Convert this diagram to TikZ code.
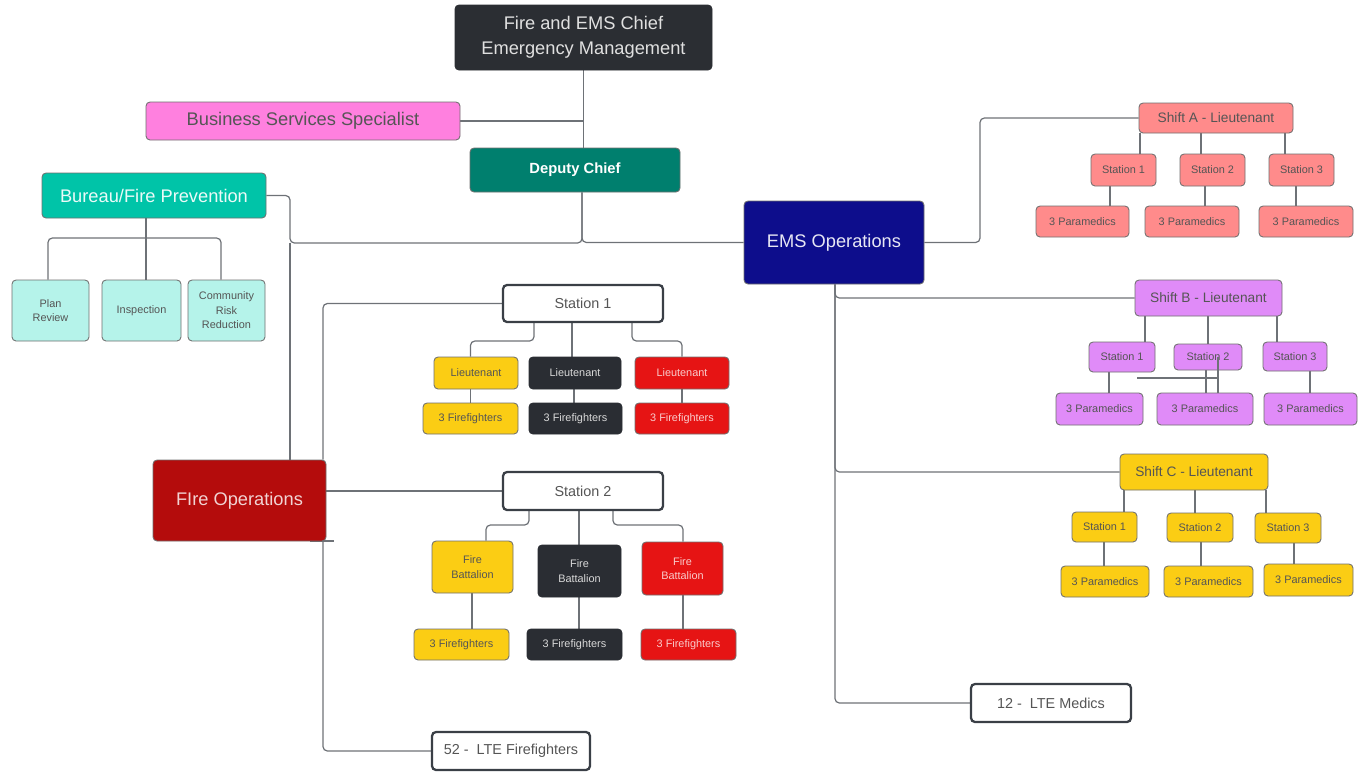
\documentclass[tikz,border=0pt]{standalone}
\usepackage{fontspec}
\setmainfont{Liberation Sans}
\usetikzlibrary{backgrounds}
\definecolor{chiefc}{HTML}{2B2E33}
\definecolor{pinkc}{HTML}{FF80DF}
\definecolor{depc}{HTML}{007F6E}
\definecolor{burc}{HTML}{00C4A8}
\definecolor{lightc}{HTML}{B5F3EA}
\definecolor{emsc}{HTML}{0D0D8C}
\definecolor{fopc}{HTML}{B40C0C}
\definecolor{yelc}{HTML}{FBCD14}
\definecolor{drkc}{HTML}{2A2D33}
\definecolor{redc}{HTML}{E61414}
\definecolor{salmc}{HTML}{FF8B8B}
\definecolor{purpc}{HTML}{E08BF8}
\definecolor{linec}{HTML}{6E7277}
\definecolor{bordc}{HTML}{6F6F6F}
\definecolor{txtg}{HTML}{555555}
\definecolor{stbord}{HTML}{3A3F46}
\newcommand\mkbox[7]{\node[#6, minimum width={(#4-#2)*0.02cm}, minimum height={(#5-#3)*0.02cm}] (#1) at ({(#2+#4)/2},{(#3+#5)/2}) {#7};}
\tikzset{
  box/.style={rounded corners=2.3pt, draw=bordc, line width=0.5pt, inner sep=0pt, align=center},
  big/.style={font=\fontsize{10.4}{14.5}\selectfont},
  mid/.style={font=\fontsize{8.2}{10}\selectfont},
  shf/.style={font=\fontsize{7.8}{9.5}\selectfont},
  sml/.style={font=\fontsize{6.2}{8.3}\selectfont},
  chiefbox/.style={box, big, fill=chiefc, draw=chiefc, text=white!88!black},
  pinkbox/.style={box, big, fill=pinkc, text=txtg},
  depbox/.style={box, fill=depc, text=white, font=\fontsize{8.4}{10}\selectfont\bfseries},
  burbox/.style={box, big, fill=burc, text=white!92!burc},
  litebox/.style={box, sml, fill=lightc, text=txtg},
  emsbox/.style={box, big, fill=emsc, text=white!90!emsc},
  fopbox/.style={box, big, fill=fopc, text=white!82!fopc},
  stbox/.style={box, mid, fill=white, draw=stbord, line width=1.3pt, text=txtg},
  yelbox/.style={box, sml, fill=yelc, text=txtg},
  drkbox/.style={box, sml, fill=drkc, draw=drkc, text=white!85!black},
  redbox/.style={box, sml, fill=redc, text=white!78!redc},
  salmbox/.style={box, sml, fill=salmc, text=txtg},
  purpbox/.style={box, sml, fill=purpc, text=txtg},
  conn/.style={draw=linec, line width=0.7pt, rounded corners=2.5pt},
}
\begin{document}
\begin{tikzpicture}[x=0.02cm, y=-0.02cm]
\useasboundingbox (0,0) rectangle (1367,772);
% top level
\mkbox{chief}{455}{5}{712}{70}{chiefbox}{Fire and EMS Chief\\Emergency Management}
\mkbox{biz}{146}{102}{460}{140}{pinkbox}{Business Services Specialist}
\mkbox{dep}{470}{148}{680}{192}{depbox}{Deputy Chief}
\mkbox{bur}{42}{173}{266}{218}{burbox}{Bureau/Fire Prevention}
\mkbox{pr}{12}{280}{89}{341}{litebox}{Plan\\Review}
\mkbox{insp}{102}{280}{181}{341}{litebox}{Inspection}
\mkbox{crr}{188}{280}{265}{341}{litebox}{Community\\Risk\\Reduction}
\mkbox{ems}{744}{201}{924}{284}{emsbox}{EMS Operations}
\mkbox{fops}{153}{460}{326}{541}{fopbox}{FIre Operations}
% fire stations
\mkbox{st1}{503}{285}{663}{322}{stbox}{Station 1}
\mkbox{st2}{503}{472}{663}{510}{stbox}{Station 2}
\mkbox{lt1}{434}{357}{518}{389}{yelbox}{Lieutenant}
\mkbox{lt2}{529}{357}{621}{389}{drkbox}{Lieutenant}
\mkbox{lt3}{635}{357}{729}{389}{redbox}{Lieutenant}
\mkbox{ff1}{423}{403}{518}{434}{yelbox}{3 Firefighters}
\mkbox{ff2}{529}{403}{622}{434}{drkbox}{3 Firefighters}
\mkbox{ff3}{635}{403}{729}{434}{redbox}{3 Firefighters}
\mkbox{fb1}{432}{541}{513}{593}{yelbox}{Fire\\Battalion}
\mkbox{fb2}{538}{545}{621}{597}{drkbox}{Fire\\Battalion}
\mkbox{fb3}{642}{542}{723}{595}{redbox}{Fire\\Battalion}
\mkbox{ff4}{414}{629}{509}{660}{yelbox}{3 Firefighters}
\mkbox{ff5}{527}{629}{622}{660}{drkbox}{3 Firefighters}
\mkbox{ff6}{641}{629}{736}{660}{redbox}{3 Firefighters}
\mkbox{lteff}{432}{732}{590}{770}{stbox}{52 - \ LTE Firefighters}
\mkbox{ltem}{971}{684}{1131}{722}{stbox}{12 - \ LTE Medics}
% shift A
\mkbox{shA}{1139}{103}{1293}{133}{salmbox, shf}{Shift A - Lieutenant}
\mkbox{sa1}{1091}{154}{1156}{186}{salmbox}{Station 1}
\mkbox{sa2}{1180}{154}{1245}{186}{salmbox}{Station 2}
\mkbox{sa3}{1269}{154}{1334}{186}{salmbox}{Station 3}
\mkbox{pa1}{1036}{206}{1129}{237}{salmbox}{3 Paramedics}
\mkbox{pa2}{1145}{206}{1239}{237}{salmbox}{3 Paramedics}
\mkbox{pa3}{1259}{206}{1353}{237}{salmbox}{3 Paramedics}
% shift B
\mkbox{shB}{1135}{280}{1282}{316}{purpbox, shf}{Shift B - Lieutenant}
\mkbox{sb1}{1089}{342}{1155}{372}{purpbox}{Station 1}
\mkbox{sb2}{1174}{344}{1242}{370}{purpbox}{Station 2}
\mkbox{sb3}{1263}{342}{1327}{371}{purpbox}{Station 3}
\mkbox{pb1}{1056}{393}{1143}{425}{purpbox}{3 Paramedics}
\mkbox{pb2}{1157}{393}{1253}{425}{purpbox}{3 Paramedics}
\mkbox{pb3}{1264}{393}{1357}{425}{purpbox}{3 Paramedics}
% shift C
\mkbox{shC}{1120}{454}{1268}{490}{yelbox, shf}{Shift C - Lieutenant}
\mkbox{sc1}{1072}{512}{1137}{542}{yelbox}{Station 1}
\mkbox{sc2}{1167}{513}{1233}{542}{yelbox}{Station 2}
\mkbox{sc3}{1255}{513}{1321}{543}{yelbox}{Station 3}
\mkbox{pc1}{1061}{566}{1149}{597}{yelbox}{3 Paramedics}
\mkbox{pc2}{1164}{566}{1253}{597}{yelbox}{3 Paramedics}
\mkbox{pc3}{1264}{564}{1353}{596}{yelbox}{3 Paramedics}
\coordinate (j1) at (290,243);
\coordinate (bj) at (146,238);
\coordinate (stubL) at (310,541);
\coordinate (stubR) at (334,541);
\coordinate (sbx) at (1137,378);
\coordinate (sby) at (1218,357);
\begin{scope}[on background layer]
\draw[conn] (chief.south) -- (chief.south |- dep.north);
\draw[conn] (biz.east) -- (biz.east -| chief.south);
\draw[conn] (bur.east) -| (j1) -| (dep.south -| 582,0);
\draw[conn] (ems.west) -| (dep.south -| 582,0);
\draw[conn] (fops.north -| j1) -- (j1);
\draw[conn] (bur.south -| bj) -- (bj);
\draw[conn] (pr.north -| 48,0) |- (bj) -| (crr.north -| 221,0);
\draw[conn] (bj) -- (insp.north -| bj);
\draw[conn] (fops.north -| 323,0) |- (st1.west);
\draw[conn] (fops.east |- st2.west) -- (st2.west);
\draw[conn] (fops.south -| 323,0) |- (lteff.west);
\draw[conn] (stubL) -- (stubR);
% station 1
\draw[conn] (st1.south -| 534,0) -- (534,341) -| (ff1.north |- lt1.north);
\draw[conn] (st1.south -| 572,0) -- (lt2.north -| 572,0);
\draw[conn] (st1.south -| 632,0) -- (632,341) -| (ff3.north |- lt3.north);
\draw[conn] (ff1.north |- lt1.south) -- (ff1.north);
\draw[conn] (lt2.south -| 574,0) -- (ff2.north -| 574,0);
\draw[conn] (ff3.north |- lt3.south) -- (ff3.north);
% station 2
\draw[conn] (st2.south -| 529,0) -- (529,525) -| (fb1.north -| 486,0);
\draw[conn] (st2.south -| 579,0) -- (fb2.north -| 579,0);
\draw[conn] (st2.south -| 613,0) -- (613,525) -| (fb3.north -| 683,0);
\draw[conn] (fb1.south -| 472,0) -- (ff4.north -| 472,0);
\draw[conn] (fb2.south -| 579,0) -- (ff5.north -| 579,0);
\draw[conn] (fb3.south -| 683,0) -- (ff6.north -| 683,0);
% EMS
\draw[conn] (ems.east) -- (980,242.5) |- (shA.west);
\draw[conn] (ems.south -| 835,0) |- (shB.west);
\draw[conn] (ems.south -| 835,0) |- (shC.west);
\draw[conn] (ems.south -| 835,0) |- (ltem.west);
% shift A
\draw[conn] (shA.south -| 1140,0) -- (sa1.north -| 1140,0);
\draw[conn] (shA.south -| 1201,0) -- (sa2.north -| 1201,0);
\draw[conn] (shA.south -| 1285,0) -- (sa3.north -| 1285,0);
\draw[conn] (sa1.south -| 1110,0) -- (pa1.north -| 1110,0);
\draw[conn] (sa2.south -| 1205,0) -- (pa2.north -| 1205,0);
\draw[conn] (sa3.south -| 1296,0) -- (pa3.north -| 1296,0);
% shift B
\draw[conn] (shB.south -| 1145,0) -- (sb1.north -| 1145,0);
\draw[conn] (shB.south -| 1208,0) -- (sb2.north -| 1208,0);
\draw[conn] (shB.south -| 1277,0) -- (sb3.north -| 1277,0);
\draw[conn] (sb1.south -| 1109,0) -- (pb1.north -| 1109,0);
\draw[conn] (sb2.south -| 1206,0) -- (pb2.north -| 1206,0);
\draw[conn] (sb3.south -| 1310,0) -- (pb3.north -| 1310,0);
\draw[conn] (sbx) -- (sbx -| sby);
% shift C
\draw[conn] (shC.south -| 1124,0) -- (sc1.north -| 1124,0);
\draw[conn] (shC.south -| 1195,0) -- (sc2.north -| 1195,0);
\draw[conn] (shC.south -| 1266,0) -- (sc3.north -| 1266,0);
\draw[conn] (sc1.south -| 1104,0) -- (pc1.north -| 1104,0);
\draw[conn] (sc2.south -| 1201,0) -- (pc2.north -| 1201,0);
\draw[conn] (sc3.south -| 1294,0) -- (pc3.north -| 1294,0);
\end{scope}
\draw[conn] (sby) -- (pb2.north -| sby);
\end{tikzpicture}
\end{document}
